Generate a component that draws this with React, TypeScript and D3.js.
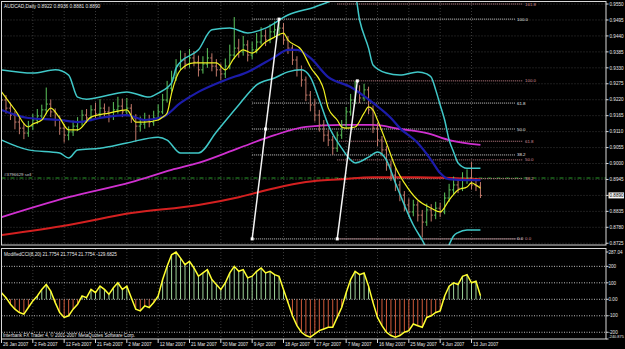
import React from 'react';
import * as d3 from 'd3';

const dateLabels = ['26 Jan 2007', '2 Feb 2007', '12 Feb 2007', '21 Feb 2007', '2 Mar 2007', '12 Mar 2007', '21 Mar 2007', '30 Mar 2007', '9 Apr 2007', '18 Apr 2007', '27 Apr 2007', '7 May 2007', '16 May 2007', '25 May 2007', '4 Jun 2007', '13 Jun 2007'];

const opens = [
  0.9240, 0.9219, 0.9191, 0.9167, 0.9143, 0.9122, 0.9105, 0.9129, 0.9150, 0.9164,
  0.9185, 0.9205, 0.9178, 0.9150, 0.9122, 0.9098, 0.9109, 0.9129, 0.9143, 0.9167,
  0.9157, 0.9185, 0.9171, 0.9191, 0.9178, 0.9164, 0.9185, 0.9198, 0.9178, 0.9191,
  0.9157, 0.9129, 0.9136, 0.9150, 0.9143, 0.9157, 0.9178, 0.9219, 0.9260, 0.9295,
  0.9336, 0.9357, 0.9343, 0.9364, 0.9350, 0.9323, 0.9343, 0.9364, 0.9336, 0.9323,
  0.9309, 0.9336, 0.9374, 0.9398, 0.9385, 0.9409, 0.9374, 0.9392, 0.9419, 0.9440,
  0.9426, 0.9454, 0.9461, 0.9467, 0.9426, 0.9398, 0.9357, 0.9323, 0.9288, 0.9236,
  0.9202, 0.9167, 0.9133, 0.9098, 0.9081, 0.9053, 0.9098, 0.9133, 0.9178, 0.9219,
  0.9247, 0.9226, 0.9254, 0.9185, 0.9122, 0.9081, 0.9047, 0.8995, 0.8960, 0.8926,
  0.8891, 0.8857, 0.8833, 0.8857, 0.8822, 0.8798, 0.8840, 0.8822, 0.8846, 0.8833,
  0.8881, 0.8909, 0.8926, 0.8915, 0.8943, 0.8950, 0.8926, 0.8922,
];
const closes = [
  0.9219, 0.9191, 0.9167, 0.9143, 0.9122, 0.9105, 0.9129, 0.9150, 0.9164, 0.9185,
  0.9205, 0.9178, 0.9150, 0.9122, 0.9098, 0.9109, 0.9129, 0.9143, 0.9167, 0.9157,
  0.9185, 0.9171, 0.9191, 0.9178, 0.9164, 0.9185, 0.9198, 0.9178, 0.9191, 0.9157,
  0.9129, 0.9136, 0.9150, 0.9143, 0.9157, 0.9178, 0.9219, 0.9260, 0.9295, 0.9336,
  0.9357, 0.9343, 0.9364, 0.9350, 0.9323, 0.9343, 0.9364, 0.9336, 0.9323, 0.9309,
  0.9336, 0.9374, 0.9398, 0.9385, 0.9409, 0.9374, 0.9392, 0.9419, 0.9440, 0.9426,
  0.9454, 0.9461, 0.9467, 0.9426, 0.9398, 0.9357, 0.9323, 0.9288, 0.9236, 0.9202,
  0.9167, 0.9133, 0.9098, 0.9081, 0.9053, 0.9098, 0.9133, 0.9178, 0.9219, 0.9247,
  0.9226, 0.9254, 0.9185, 0.9122, 0.9081, 0.9047, 0.8995, 0.8960, 0.8926, 0.8891,
  0.8857, 0.8833, 0.8857, 0.8822, 0.8798, 0.8840, 0.8822, 0.8846, 0.8833, 0.8881,
  0.8909, 0.8926, 0.8915, 0.8943, 0.8950, 0.8926, 0.8922, 0.8890,
];
const highs = [
  0.9258, 0.9236, 0.9210, 0.9181, 0.9165, 0.9140, 0.9147, 0.9171, 0.9188, 0.9203,
  0.9262, 0.9221, 0.9190, 0.9166, 0.9137, 0.9128, 0.9148, 0.9160, 0.9185, 0.9188,
  0.9201, 0.9210, 0.9222, 0.9207, 0.9196, 0.9212, 0.9230, 0.9224, 0.9226, 0.9205,
  0.9170, 0.9162, 0.9175, 0.9168, 0.9182, 0.9204, 0.9240, 0.9285, 0.9320, 0.9360,
  0.9390, 0.9381, 0.9395, 0.9388, 0.9372, 0.9370, 0.9398, 0.9380, 0.9360, 0.9345,
  0.9362, 0.9410, 0.9505, 0.9430, 0.9440, 0.9425, 0.9420, 0.9450, 0.9470, 0.9462,
  0.9480, 0.9490, 0.9500, 0.9485, 0.9440, 0.9410, 0.9370, 0.9338, 0.9300, 0.9250,
  0.9222, 0.9185, 0.9150, 0.9115, 0.9095, 0.9110, 0.9150, 0.9195, 0.9240, 0.9285,
  0.9270, 0.9275, 0.9265, 0.9200, 0.9140, 0.9095, 0.9060, 0.9010, 0.8985, 0.8940,
  0.8905, 0.8880, 0.8875, 0.8870, 0.8840, 0.8862, 0.8860, 0.8868, 0.8865, 0.8900,
  0.8930, 0.8955, 0.8945, 0.8970, 0.8980, 0.9005, 0.8950, 0.8936,
];
const lows = [
  0.9201, 0.9172, 0.9150, 0.9118, 0.9101, 0.9084, 0.9092, 0.9115, 0.9136, 0.9152,
  0.9170, 0.9160, 0.9128, 0.9099, 0.9072, 0.9080, 0.9095, 0.9112, 0.9130, 0.9140,
  0.9146, 0.9155, 0.9160, 0.9158, 0.9142, 0.9150, 0.9172, 0.9160, 0.9165, 0.9140,
  0.9075, 0.9110, 0.9120, 0.9125, 0.9130, 0.9148, 0.9170, 0.9210, 0.9248, 0.9285,
  0.9322, 0.9325, 0.9330, 0.9335, 0.9300, 0.9310, 0.9330, 0.9318, 0.9300, 0.9288,
  0.9295, 0.9325, 0.9360, 0.9365, 0.9372, 0.9352, 0.9360, 0.9380, 0.9410, 0.9405,
  0.9415, 0.9435, 0.9440, 0.9410, 0.9378, 0.9340, 0.9300, 0.9265, 0.9215, 0.9180,
  0.9145, 0.9110, 0.9075, 0.9060, 0.9030, 0.9040, 0.9085, 0.9120, 0.9165, 0.9205,
  0.9208, 0.9215, 0.9170, 0.9105, 0.9060, 0.9025, 0.8975, 0.8940, 0.8905, 0.8870,
  0.8835, 0.8815, 0.8818, 0.8800, 0.8745, 0.8785, 0.8800, 0.8808, 0.8815, 0.8825,
  0.8868, 0.8895, 0.8898, 0.8905, 0.8930, 0.8910, 0.8905, 0.8881,
];

// [bar index, price]
const fastMA: [number, number][] = [
  [0, 0.9247], [3, 0.9185], [6, 0.9126], [7, 0.9136], [9, 0.9150], [11, 0.9191], [13, 0.9157], [15, 0.9116],
  [17, 0.9116], [20, 0.9160], [24, 0.9174], [28, 0.9185], [30, 0.9143], [32, 0.9143], [35, 0.9150], [36, 0.9160],
  [37, 0.9174], [38, 0.9243], [40, 0.9323], [43, 0.9347], [45, 0.9347], [48, 0.9347], [50, 0.9323], [52, 0.9364],
  [54, 0.9392], [56, 0.9381], [59, 0.9419], [61, 0.9436], [63, 0.9450], [64, 0.9426], [67, 0.9392], [69, 0.9333],
  [72, 0.9254], [73, 0.9191], [75, 0.9150], [76, 0.9126], [77, 0.9122], [79, 0.9126], [81, 0.9174], [82, 0.9195],
  [83, 0.9185], [84, 0.9150], [86, 0.9071], [88, 0.8988], [90, 0.8933], [93, 0.8874], [96, 0.8846], [98, 0.8833],
  [100, 0.8874], [102, 0.8909], [104, 0.8919], [105, 0.8933], [106, 0.8926], [107, 0.8915],
];
const slowMA: [number, number][] = [
  [0, 0.9185], [6, 0.9157], [13, 0.9150], [17, 0.9143], [22, 0.9157], [28, 0.9167], [32, 0.9150], [36, 0.9160],
  [40, 0.9209], [44, 0.9247], [50, 0.9288], [55, 0.9316], [61, 0.9367], [64, 0.9392], [66, 0.9392], [69, 0.9364],
  [73, 0.9298], [78, 0.9264], [83, 0.9209], [87, 0.9157], [89, 0.9122], [93, 0.9071], [96, 0.9012], [98, 0.8967],
  [100, 0.8946], [104, 0.8943], [107, 0.8943],
];
const ma100: [number, number][] = [
  [0, 0.8815], [15, 0.8884], [29, 0.8936], [38, 0.8978], [44, 0.9002], [53, 0.9053], [61, 0.9098], [68, 0.9126],
  [76, 0.9133], [83, 0.9133], [89, 0.9119], [95, 0.9105], [100, 0.9081], [107, 0.9064],
];
const ma200: [number, number][] = [
  [0, 0.8753], [15, 0.8788], [29, 0.8829], [44, 0.8857], [53, 0.8884], [61, 0.8915], [68, 0.8936], [76, 0.8946],
  [83, 0.8953], [93, 0.8953], [107, 0.8946],
];
const bandUpper: [number, number][] = [
  [0, 0.9323], [7, 0.9312], [12, 0.9323], [15, 0.9305], [17, 0.9229], [19, 0.9222], [24, 0.9236], [28, 0.9247],
  [33, 0.9229], [35, 0.9243], [38, 0.9278], [39, 0.9329], [40, 0.9350], [44, 0.9392], [47, 0.9461], [51, 0.9467],
  [55, 0.9450], [59, 0.9467], [64, 0.9512], [70, 0.9540], [73, 0.9557], [77, 0.9578], [79, 0.9578], [80, 0.9495],
  [82, 0.9398], [83, 0.9340], [86, 0.9312], [89, 0.9305], [93, 0.9316], [95, 0.9309], [96, 0.9298], [97, 0.9254],
  [98, 0.9202], [99, 0.9150], [100, 0.9081], [101, 0.9040], [102, 0.9002], [104, 0.8984], [107, 0.8984],
];
const bandLower: [number, number][] = [
  [0, 0.9081], [6, 0.9047], [13, 0.9036], [15, 0.9019], [17, 0.9047], [22, 0.9053], [28, 0.9071], [35, 0.9091],
  [37, 0.9081], [40, 0.9036], [44, 0.9036], [48, 0.9109], [53, 0.9202], [57, 0.9271], [61, 0.9295], [64, 0.9316],
  [67, 0.9323], [69, 0.9298], [71, 0.9219], [73, 0.9133], [76, 0.9053], [78, 0.9012], [79, 0.9002], [82, 0.9022],
  [84, 0.9040], [86, 0.9012], [88, 0.8933], [90, 0.8857], [92, 0.8788], [94, 0.8736], [96, 0.8684], [99, 0.8684],
  [100, 0.8720], [101, 0.8750], [102, 0.8762], [104, 0.8771], [107, 0.8771],
];

const cciValues = [
  40, 10, -30, -60, -80, -90, -50, -10, 20, 60,
  90, 50, -20, -80, -110, -100, -60, -30, 20, 10,
  60, 40, 80, 60, 30, 70, 100, 60, 80, 10,
  -60, -70, -40, -50, -20, 20, 120, 200, 270, 287,
  250, 210, 230, 190, 140, 160, 180, 120, 90, 60,
  100, 160, 200, 170, 180, 130, 140, 170, 190, 160,
  170, 150, 140, 60, -20, -100, -160, -200, -220, -230,
  -210, -190, -180, -170, -170, -110, -50, 40, 120, 170,
  150, 160, 80, -20, -110, -160, -200, -220, -230, -220,
  -200, -190, -150, -160, -170, -110, -100, -80, -70, 20,
  80, 100, 90, 140, 150, 100, 110, 22,
];

const priceTicks = [0.9550, 0.9495, 0.9440, 0.9385, 0.9330, 0.9275, 0.9220, 0.9165, 0.9110, 0.9055, 0.9000, 0.8945, 0.8890, 0.8835, 0.8780, 0.8725];
const cciTicks = [287.04, 200, 100, 0, -100, -200, -240.875];
const cciTickLabels = ['287.04', '200', '100', '0.00', '-100', '-200', '-240.875'];
const cciLevels = [200, 100, 0, -100, -200];

const whiteFibLevels = [0, 38.2, 50, 61.8, 100];
const whiteFibLow = 0.8740;
const whiteFibHigh = 0.9498;
const pinkFibLevels = [0, 38.2, 50, 61.8, 100, 161.8];
const pinkFibLow = 0.8740;
const pinkFibHigh = 0.9285;

const orderPrice = 0.8950;
const lastPrice = 0.8890;

export default function App() {
  const x = d3.scaleLinear().domain([0, 105]).range([1.5, 471.5]);
  const y = d3.scaleLinear().domain([0.8719, 0.9557]).range([245, 2]);
  const yc = d3.scaleLinear().domain([-240.875, 287.04]).range([339, 252]);
  const mk = d3.line<[number, number]>().x(d => x(d[0])).y(d => y(d[1])).curve(d3.curveMonotoneX);
  const cciLine = d3.line<number>().x((_, i) => x(i)).y(d => yc(d));
  const font = "'Liberation Sans', Arial, sans-serif";
  const L = 1.5, R = 606;
  const grid = '#3a3a3a';
  const dateIdx = dateLabels.map((_, k) => k * 7);

  const whiteX0 = x(56), whiteX1 = 515;
  const pinkX0 = x(75), pinkX1 = 523;
  const fibY = (lo: number, hi: number, lv: number) => Math.max(4, y(lo + (hi - lo) * lv / 100));

  return (
    <svg width={625} height={349} style={{ position: 'fixed', left: 0, top: 0 }} fontFamily={font}>
      <defs>
        <clipPath id="mainClip"><rect x={2} y={2} width={604} height={243} /></clipPath>
        <clipPath id="cciClip"><rect x={2} y={249} width={604} height={90} /></clipPath>
      </defs>
      <rect x={0} y={0} width={625} height={349} fill="#000" />

      {/* grid */}
      {priceTicks.map(p => (
        <line key={'gh' + p} x1={L} x2={R} y1={y(p)} y2={y(p)} stroke={grid} strokeDasharray="1 2" />
      ))}
      {dateIdx.map(i => (
        <g key={'gv' + i}>
          <line x1={x(i)} x2={x(i)} y1={2} y2={245} stroke={grid} strokeDasharray="1 2" />
          <line x1={x(i)} x2={x(i)} y1={249} y2={339} stroke={grid} strokeDasharray="1 2" />
        </g>
      ))}

      <g clipPath="url(#mainClip)">
        {/* order line */}
        <line x1={L} x2={R} y1={y(orderPrice)} y2={y(orderPrice)} stroke="#2a9a2a" strokeWidth={1} strokeDasharray="4 2 1 2" />
        <text x={4} y={y(orderPrice) - 2} fontSize={4.4} fill="#cfcfcf">#3796629 sell</text>

        {/* fib levels */}
        {whiteFibLevels.map(lv => {
          const yy = fibY(whiteFibLow, whiteFibHigh, lv);
          return (
            <g key={'wf' + lv}>
              <line x1={whiteX0} x2={whiteX1} y1={yy} y2={yy} stroke="#cfcfcf" strokeDasharray="1 1" />
              <text x={whiteX1 + 2} y={yy + 1.5} fontSize={4.4} fill="#e6e6e6">{lv.toFixed(1)}</text>
            </g>
          );
        })}
        {pinkFibLevels.map(lv => {
          const yy = fibY(pinkFibLow, pinkFibHigh, lv);
          return (
            <g key={'pf' + lv}>
              <line x1={pinkX0} x2={pinkX1} y1={yy} y2={yy} stroke="#c9848c" strokeDasharray="1 1" />
              <text x={pinkX1 + 2} y={yy + 1.5} fontSize={4.4} fill="#d8909a">{lv.toFixed(1)}</text>
            </g>
          );
        })}

        {/* long MAs */}
        <path d={mk(ma200) || ''} fill="none" stroke="#d42020" strokeWidth={2} />
        <path d={mk(ma100) || ''} fill="none" stroke="#d030d0" strokeWidth={1.8} />

        {/* bars */}
        {opens.map((o, i) => {
          const c = closes[i];
          const xi = x(i);
          const col = c >= o ? '#5cc45c' : '#c0786a';
          return (
            <path key={'b' + i}
              d={`M${xi},${y(highs[i])}V${y(lows[i])}M${xi - 1.6},${y(o)}H${xi}M${xi},${y(c)}H${xi + 1.6}`}
              stroke={col} strokeWidth={1} fill="none" />
          );
        })}

        <path d={mk(slowMA) || ''} fill="none" stroke="#1c1caa" strokeWidth={2.2} />
        <path d={mk(bandUpper) || ''} fill="none" stroke="#40c8c8" strokeWidth={1.5} />
        <path d={mk(bandLower) || ''} fill="none" stroke="#40c8c8" strokeWidth={1.5} />
        <path d={mk(fastMA) || ''} fill="none" stroke="#f0f020" strokeWidth={1.2} />

        {/* trend lines */}
        <line x1={x(56)} y1={y(whiteFibLow)} x2={x(62)} y2={y(whiteFibHigh)} stroke="#f4f4f4" strokeWidth={1.5} />
        <line x1={x(75)} y1={y(pinkFibLow)} x2={x(79.5)} y2={y(pinkFibHigh)} stroke="#f4f4f4" strokeWidth={1.5} />
        {[[56, whiteFibLow], [59, (whiteFibLow + whiteFibHigh) / 2], [62, whiteFibHigh], [75, pinkFibLow], [79.5, pinkFibHigh]].map(([b, p], k) => (
          <rect key={'m' + k} x={x(b) - 1.5} y={y(p) - 1.5} width={3} height={3} fill="#fff" />
        ))}
      </g>

      {/* CCI panel */}
      {cciLevels.map(v => (
        <line key={'cl' + v} x1={L} x2={R} y1={yc(v)} y2={yc(v)} stroke="#bdbdbd" strokeDasharray="1 1.5" />
      ))}
      <g clipPath="url(#cciClip)">
        {cciValues.map((v, i) => (
          <line key={'h' + i} x1={x(i)} x2={x(i)} y1={yc(0)} y2={yc(v)} stroke={v >= 0 ? '#9fd39a' : '#d05a3a'} strokeWidth={1} />
        ))}
        <path d={cciLine(cciValues) || ''} fill="none" stroke="#ffff30" strokeWidth={1.5} />
      </g>

      {/* borders */}
      <rect x={L} y={1.5} width={R - L} height={243.5} fill="none" stroke="#d8d8d8" strokeWidth={1} />
      <rect x={L} y={248.5} width={R - L} height={90.5} fill="none" stroke="#d8d8d8" strokeWidth={1} />

      {/* titles */}
      <text x={4} y={7.5} fontSize={4.8} fill="#e8e8e8">AUDCAD,Daily 0.8922 0.8936 0.8881 0.8890</text>
      <text x={4} y={256} fontSize={4.6} fill="#e8e8e8">ModifiedCCI(8,20) 21.7754 21.7754 21.7754 -129.6825</text>
      <text x={3} y={337} fontSize={4.6} fill="#e8e8e8">Interbank FX Trader 4, © 2001-2007 MetaQuotes Software Corp.</text>

      {/* price axis */}
      {priceTicks.map(p => (
        <g key={'pt' + p}>
          <line x1={R} x2={R + 2.5} y1={y(p)} y2={y(p)} stroke="#d8d8d8" />
          <text x={609.5} y={y(p) + 1.7} fontSize={4.6} fill="#e8e8e8">{p.toFixed(4)}</text>
        </g>
      ))}
      <rect x={608.5} y={y(lastPrice) - 3} width={15.5} height={6} fill="#f4f4f4" />
      <text x={609.5} y={y(lastPrice) + 1.7} fontSize={4.6} fill="#000">{lastPrice.toFixed(4)}</text>

      {/* cci axis */}
      {cciTicks.map((v, k) => (
        <g key={'ct' + k}>
          <line x1={R} x2={R + 2.5} y1={yc(v)} y2={yc(v)} stroke="#d8d8d8" />
          <text x={608.5} y={Math.min(yc(v) + 1.7, 338)} fontSize={k === cciTicks.length - 1 ? 3.9 : 4.6} fill="#e8e8e8">{cciTickLabels[k]}</text>
        </g>
      ))}

      {/* date axis */}
      {dateLabels.map((d, k) => (
        <g key={'dl' + k}>
          <line x1={x(dateIdx[k])} x2={x(dateIdx[k])} y1={339} y2={343} stroke="#d8d8d8" />
          <text x={x(dateIdx[k]) + 1.5} y={345.5} fontSize={4.6} fill="#e8e8e8">{d}</text>
        </g>
      ))}
    </svg>
  );
}
